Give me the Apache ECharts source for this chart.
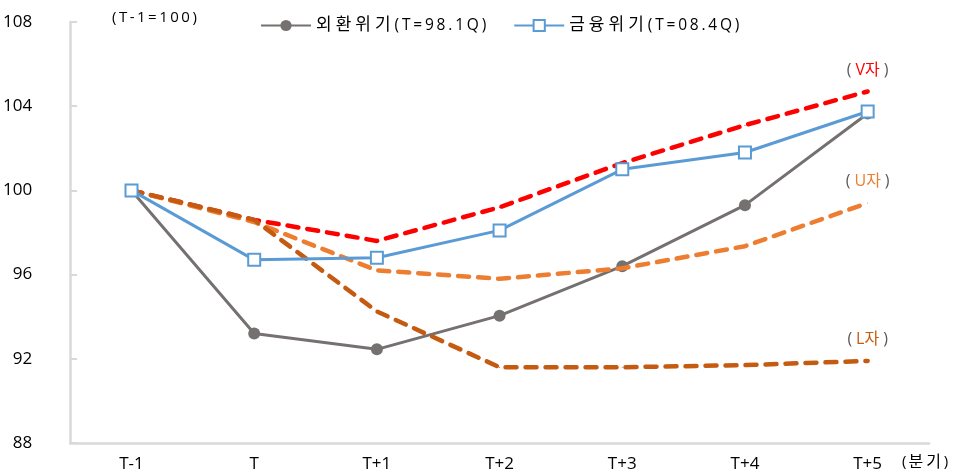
<!DOCTYPE html>
<html><head><meta charset="utf-8">
<script src="https://cdn.jsdelivr.net/npm/echarts@6/dist/echarts.min.js"></script>
<style>html,body{margin:0;padding:0;background:#fff}#c{width:953px;height:476px}</style>
</head><body><div id="c"></div>
<script>
const categories = ['T-1','T','T+1','T+2','T+3','T+4','T+5'];
const fxCrisis = [100, 93.2, 92.45, 94.05, 96.4, 99.3, 103.65];
const finCrisis = [100, 96.7, 96.8, 98.1, 101.0, 101.8, 103.75];
const vShape = [100, 98.6, 97.6, 99.2, 101.3, 103.1, 104.7];
const uShape = [100, 98.5, 96.2, 95.8, 96.3, 97.35, 99.4];
const lShape = [100, 98.6, 94.25, 91.6, 91.6, 91.7, 91.9];
const yTicks = [88, 92, 96, 100, 104, 108];
const names = ['외환위기(T=98.1Q)', '금융위기(T=08.4Q)'];
const shapeNames = ['V자', 'U자', 'L자'];
const baseNote = '(T-1=100)';
const unitNote = '(분기)';

const FONT = "'Open Sans', 'Noto Sans CJK KR', sans-serif";
const chart = echarts.init(document.getElementById('c'));

// letter-spaced rendering: each character as its own rich segment
function spaced(str) {
  return Array.from(str).map(ch => /[\uAC00-\uD7A3]/.test(ch) ? '{k|' + ch + '}' : '{l|' + ch + '}').join('');
}
function spacedRich(color, lsz, ksz, gapL, gapK) {
  return {
    l: { fontSize: lsz, color: color, fontFamily: FONT, padding: [0, gapL, 0, 0] },
    k: { fontSize: ksz, color: color, fontFamily: FONT, padding: [0, gapK, 0, 0] }
  };
}

function withEndLabel(arr, txt, color) {
  return arr.map((v, i) => i === arr.length - 1 ? {
    value: v,
    label: {
      show: true, position: 'top', distance: 13,
      formatter: '{p|(}{t|' + txt + '}{p|)}',
      rich: {
        p: { color: '#595959', fontSize: 16, fontFamily: FONT, padding: [0, 4, 0, 4] },
        t: { color: color, fontSize: 16, fontFamily: FONT }
      }
    }
  } : v);
}

function dashed(name, arr, color, txt) {
  return {
    name: name, type: 'line', data: withEndLabel(arr, txt, color),
    symbol: 'circle', symbolSize: 1, showSymbol: true, silent: true, z: 3,
    itemStyle: { color: color },
    lineStyle: { color: color, width: 4.5, type: [11, 9], cap: 'round' }
  };
}

chart.setOption({
  animation: false,
  textStyle: { fontFamily: FONT },
  grid: { left: 70, right: 24, top: 22, bottom: 33, containLabel: false },
  legend: {
    left: 255, top: 12, itemWidth: 50, itemHeight: 14, itemGap: 27,
    data: names,
    formatter: n => spaced(n),
    textStyle: { fontSize: 16, color: '#000', fontFamily: FONT, rich: spacedRich('#000', 15.5, 17, 2.8, 4) }
  },
  xAxis: {
    type: 'category', data: categories, boundaryGap: true,
    axisLine: { lineStyle: { color: '#d9d9d9', width: 2.5 } },
    axisTick: { inside: true, length: 7, lineStyle: { color: '#d9d9d9', width: 2 } },
    axisLabel: { color: '#000', fontSize: 17, margin: 13, fontFamily: FONT }
  },
  yAxis: {
    type: 'value', min: yTicks[0], max: yTicks[yTicks.length - 1], interval: 4,
    axisLine: { show: true, lineStyle: { color: '#d9d9d9', width: 2.5 } },
    axisTick: { show: true, inside: true, length: 7, lineStyle: { color: '#d9d9d9', width: 2 } },
    splitLine: { show: false },
    axisLabel: { color: '#000', fontSize: 17, margin: 38, fontFamily: FONT }
  },
  series: [
    {
      name: names[0], type: 'line', data: fxCrisis, z: 2,
      symbol: 'circle', symbolSize: 12,
      itemStyle: { color: '#767171' },
      lineStyle: { color: '#767171', width: 3 }
    },
    dashed('V', vShape, '#ff0000', shapeNames[0]),
    dashed('U', uShape, '#ed7d31', shapeNames[1]),
    dashed('L', lShape, '#c55a11', shapeNames[2]),
    {
      name: names[1], type: 'line', data: finCrisis, z: 4,
      symbol: 'rect', symbolSize: 12,
      itemStyle: { color: '#fff', borderColor: '#5b9bd5', borderWidth: 2 },
      lineStyle: { color: '#5b9bd5', width: 3 }
    }
  ],
  graphic: [
    { type: 'text', left: 112, top: 10, style: { text: spaced(baseNote), rich: spacedRich('#000', 15, 16, 2.5, 3) } },
    { type: 'text', left: 902, top: 454, style: { text: spaced(unitNote), rich: spacedRich('#000', 15, 16, 2, 3) } }
  ]
});
</script></body></html>
